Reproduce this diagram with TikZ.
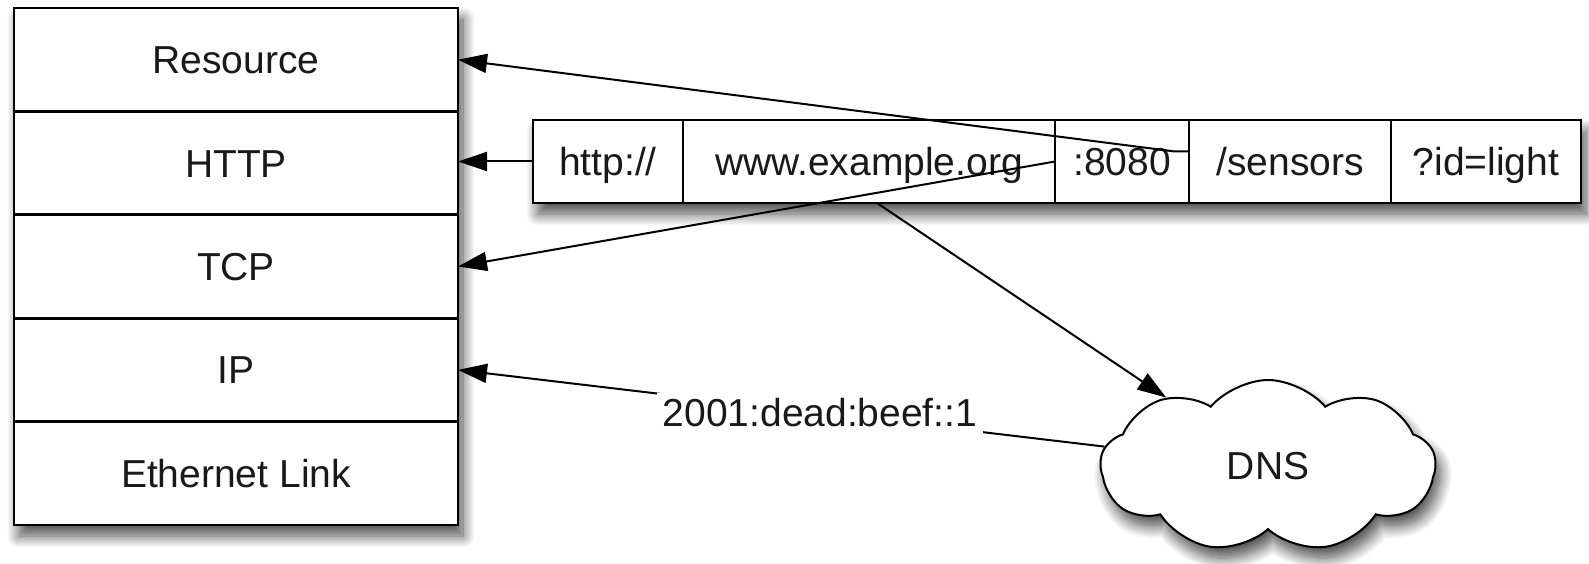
\documentclass[tikz,border=0pt]{standalone}
\usepackage{fontspec}
\setmainfont{Liberation Sans}
\usetikzlibrary{shapes.symbols,arrows.meta,shadows.blur,calc}
\begin{document}
\begin{tikzpicture}[x=1pt,y=-1pt,
  every node/.style={font=\fontsize{39}{44}\selectfont, text=black!90},
  layer/.style={draw, line width=2.8pt, fill=white, minimum width=444pt, minimum height=103.4pt, inner sep=0pt, outer sep=0pt, text height=28pt, text depth=0pt},
  cell/.style={draw, line width=2.2pt, fill=white, minimum height=83pt, inner sep=0pt, outer sep=0pt, text height=28pt, text depth=0pt},
  conn/.style={line width=2pt, -{Triangle[length=29pt,width=19pt]}},
  frameshadow/.style={blur shadow={shadow xshift=5pt, shadow yshift=-11pt, shadow blur radius=12pt, shadow blur steps=14, shadow opacity=70}}
]
\useasboundingbox (0,0) rectangle (1589,564);
% protocol stack
\node[fill=white, frameshadow, minimum width=444pt, minimum height=517pt, inner sep=0pt] (stack) at (236,266.5) {};
\node[layer] (res)  at (236,59.7)  {Resource};
\node[layer] (http) at (236,163.1) {HTTP};
\node[layer] (tcp)  at (236,266.5) {TCP};
\node[layer] (ip)   at (236,369.9) {IP};
\node[layer] (eth)  at (236,473.3) {Ethernet Link};
% URL
\node[fill=white, frameshadow, minimum width=1048pt, minimum height=83pt, inner sep=0pt] (url) at (1057,161.5) {};
\node[cell, minimum width=150pt] (scheme)  at (608,161.5)  {http://};
\node[cell, minimum width=372pt] (host)    at (869,161.5)  {www.example.org};
\node[cell, minimum width=134pt] (port)    at (1122,161.5) {:8080};
\node[cell, minimum width=202pt] (sensors) at (1290,161.5) {/sensors};
\node[cell, minimum width=190pt] (query)   at (1486,161.5) {?id=light};
% DNS cloud
\node[cloud, cloud puffs=9, cloud puff arc=100, aspect=2, draw, line width=2pt, fill=white, frameshadow, minimum width=335pt, minimum height=172pt, inner sep=0pt] (dns) at (1268,466) {DNS};
% connectors
\draw[conn] ([yshift=10pt]sensors.west) -- ++(-14,0) -- (res.east);
\draw[conn] (scheme.west) -- (scheme.west -| http.east);
\draw[conn] (port.west) -- (tcp.east);
\draw[conn] ([xshift=8pt]host.south) -- (dns);
\draw[conn] (dns) -- node[pos=0.44, fill=white, inner sep=6pt] (addr) {2001:dead:beef::1} (ip.east);
\end{tikzpicture}
\end{document}
